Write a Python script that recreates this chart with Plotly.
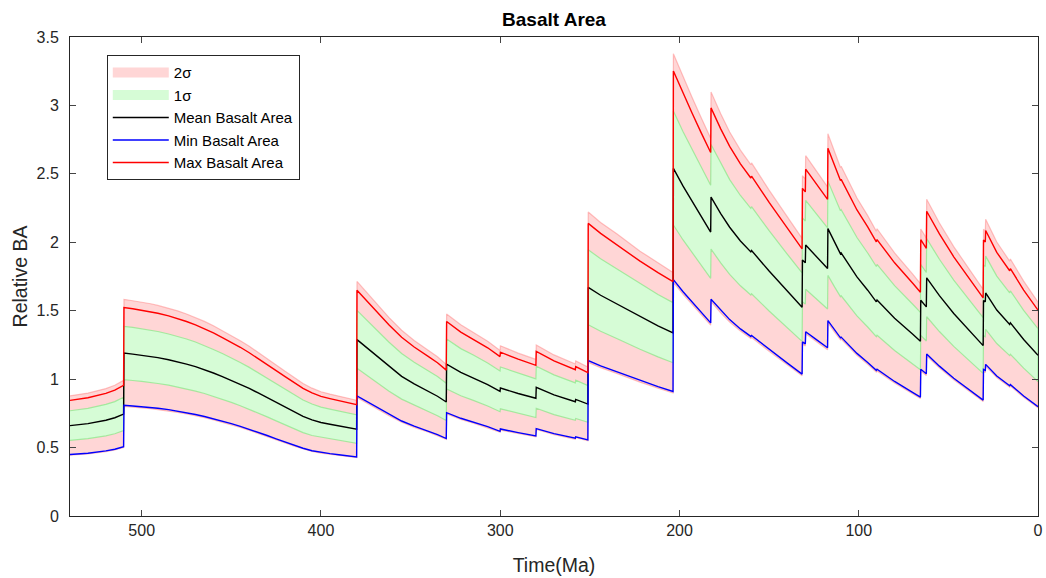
import plotly.graph_objects as go

# Time (Ma) sample points (pairs of close points mark the step jumps)
time_ma = [540, 530, 520, 515, 510.1,
           509.9, 505, 500, 495, 491, 485, 480, 475, 470, 465, 460, 455, 450, 445, 440, 435, 430, 425, 420,
           415, 410, 405, 400, 395, 390, 385, 380.1,
           379.9, 375, 370, 362, 355, 348, 340, 335, 330.1, 329.9, 322, 315, 307, 300.1, 299.9, 290, 280.1,
           279.9, 270, 258.1, 257.9, 251.1, 250.9, 244, 235, 222, 212, 203.6, 203.4, 198, 193, 188, 182.6,
           182.4, 177, 172, 166, 160.2, 159.8, 150, 140, 131.6, 131.4, 129.8, 129.6, 124, 117.4, 117.2, 113.5,
           110.2, 109.8, 101, 95, 90.2, 89.8, 80, 70, 65.6, 65.4, 62.3, 62.1, 55, 47, 40, 30.6, 30.4, 29.4,
           29.2, 23, 15.8, 15.4, 8, 0]

mean_ba = [0.660, 0.675, 0.700, 0.718, 0.745,
           1.190, 1.183, 1.175, 1.166, 1.157, 1.142, 1.127, 1.110, 1.091, 1.069, 1.045, 1.019, 0.992, 0.963,
           0.932, 0.899, 0.865, 0.830, 0.795, 0.760, 0.728, 0.702, 0.683, 0.670, 0.659, 0.647, 0.635,
           1.289, 1.235, 1.180, 1.090, 1.020, 0.965, 0.910, 0.875, 0.833,
           1.110, 1.050, 1.010, 0.960, 0.910, 0.935, 0.895, 0.860, 0.940, 0.885, 0.835, 0.852, 0.818, 1.670,
           1.613, 1.550, 1.455, 1.390, 1.338, 2.540, 2.410, 2.300, 2.190, 2.075, 2.330, 2.210, 2.110, 2.010,
           1.930, 1.940, 1.790, 1.645, 1.525, 1.870, 1.850, 1.980, 1.900, 1.808, 2.100, 2.000, 1.915, 1.922,
           1.747, 1.650, 1.565, 1.578, 1.445, 1.330, 1.277, 1.577, 1.528, 1.740, 1.610, 1.480, 1.380, 1.245,
           1.575, 1.565, 1.630, 1.505, 1.400, 1.412, 1.290, 1.175]

max_ba = [0.845, 0.864, 0.896, 0.919, 0.954,
          1.523, 1.514, 1.504, 1.492, 1.481, 1.462, 1.443, 1.421, 1.396, 1.368, 1.338, 1.304, 1.270, 1.233,
          1.193, 1.151, 1.107, 1.062, 1.018, 0.973, 0.932, 0.899, 0.874, 0.858, 0.844, 0.828, 0.813,
          1.650, 1.581, 1.510, 1.395, 1.306, 1.235, 1.165, 1.120, 1.066,
          1.421, 1.344, 1.293, 1.229, 1.165, 1.197, 1.146, 1.101, 1.203, 1.133, 1.069, 1.091, 1.047, 2.138,
          2.065, 1.984, 1.862, 1.779, 1.713, 3.251, 3.085, 2.944, 2.803, 2.656, 2.982, 2.829, 2.701, 2.573,
          2.470, 2.483, 2.291, 2.106, 1.952, 2.394, 2.368, 2.534, 2.432, 2.314, 2.688, 2.560, 2.451, 2.460,
          2.236, 2.112, 2.003, 2.020, 1.850, 1.702, 1.635, 2.019, 1.956, 2.227, 2.061, 1.894, 1.766, 1.594,
          2.016, 2.003, 2.086, 1.926, 1.792, 1.807, 1.651, 1.504]

min_ba = [0.449, 0.459, 0.476, 0.488, 0.507,
          0.809, 0.804, 0.799, 0.793, 0.787, 0.777, 0.766, 0.755, 0.742, 0.727, 0.711, 0.693, 0.675, 0.655,
          0.634, 0.611, 0.588, 0.564, 0.541, 0.517, 0.495, 0.477, 0.464, 0.456, 0.448, 0.440, 0.432,
          0.877, 0.840, 0.802, 0.741, 0.694, 0.656, 0.619, 0.595, 0.566,
          0.755, 0.714, 0.687, 0.653, 0.619, 0.636, 0.609, 0.585, 0.639, 0.602, 0.568, 0.579, 0.556, 1.136,
          1.097, 1.054, 0.989, 0.945, 0.910, 1.727, 1.639, 1.564, 1.489, 1.411, 1.584, 1.503, 1.435, 1.367,
          1.312, 1.319, 1.217, 1.119, 1.037, 1.272, 1.258, 1.346, 1.292, 1.229, 1.428, 1.360, 1.302, 1.307,
          1.188, 1.122, 1.064, 1.073, 0.983, 0.904, 0.868, 1.072, 1.039, 1.183, 1.095, 1.006, 0.938, 0.847,
          1.071, 1.064, 1.108, 1.023, 0.952, 0.960, 0.877, 0.799]

upper_1sigma = [0.769, 0.786, 0.816, 0.836, 0.868,
                1.386, 1.378, 1.369, 1.358, 1.348, 1.330, 1.313, 1.293, 1.271, 1.245, 1.217, 1.187, 1.156, 1.122,
                1.086, 1.047, 1.008, 0.967, 0.926, 0.885, 0.848, 0.818, 0.796, 0.781, 0.768, 0.754, 0.740,
                1.502, 1.439, 1.375, 1.270, 1.188, 1.124, 1.060, 1.019, 0.970,
                1.293, 1.223, 1.177, 1.118, 1.060, 1.089, 1.043, 1.002, 1.095, 1.031, 0.973, 0.993, 0.953, 1.946,
                1.879, 1.806, 1.695, 1.619, 1.559, 2.959, 2.808, 2.680, 2.551, 2.417, 2.714, 2.575, 2.458, 2.342,
                2.248, 2.260, 2.085, 1.916, 1.777, 2.179, 2.155, 2.307, 2.214, 2.106, 2.447, 2.330, 2.231, 2.239,
                2.035, 1.922, 1.823, 1.838, 1.683, 1.549, 1.488, 1.837, 1.780, 2.027, 1.876, 1.724, 1.608, 1.450,
                1.835, 1.823, 1.899, 1.753, 1.631, 1.645, 1.503, 1.369]

lower_1sigma = [0.552, 0.565, 0.586, 0.601, 0.624,
                0.996, 0.990, 0.983, 0.976, 0.968, 0.956, 0.943, 0.929, 0.913, 0.895, 0.875, 0.853, 0.830, 0.806,
                0.780, 0.752, 0.724, 0.695, 0.665, 0.636, 0.609, 0.588, 0.572, 0.561, 0.552, 0.542, 0.531,
                1.079, 1.034, 0.988, 0.912, 0.854, 0.808, 0.762, 0.732, 0.697,
                0.929, 0.879, 0.845, 0.804, 0.762, 0.783, 0.749, 0.720, 0.787, 0.741, 0.699, 0.713, 0.685, 1.398,
                1.350, 1.297, 1.218, 1.163, 1.120, 2.126, 2.017, 1.925, 1.833, 1.737, 1.950, 1.850, 1.766, 1.682,
                1.615, 1.624, 1.498, 1.377, 1.276, 1.565, 1.548, 1.657, 1.590, 1.513, 1.758, 1.674, 1.603, 1.609,
                1.462, 1.381, 1.310, 1.321, 1.209, 1.113, 1.069, 1.320, 1.279, 1.456, 1.348, 1.239, 1.155, 1.042,
                1.318, 1.310, 1.364, 1.260, 1.172, 1.182, 1.080, 0.983]

upper_2sigma = [0.878, 0.898, 0.931, 0.955, 0.991,
                1.583, 1.573, 1.563, 1.551, 1.539, 1.519, 1.499, 1.476, 1.451, 1.422, 1.390, 1.355, 1.319, 1.281,
                1.240, 1.196, 1.150, 1.104, 1.057, 1.011, 0.968, 0.934, 0.908, 0.891, 0.876, 0.861, 0.845,
                1.714, 1.643, 1.569, 1.450, 1.357, 1.283, 1.210, 1.164, 1.108,
                1.476, 1.397, 1.343, 1.277, 1.210, 1.244, 1.190, 1.144, 1.250, 1.177, 1.111, 1.133, 1.088, 2.221,
                2.145, 2.062, 1.935, 1.849, 1.780, 3.378, 3.205, 3.059, 2.913, 2.760, 3.099, 2.939, 2.806, 2.673,
                2.567, 2.580, 2.381, 2.188, 2.028, 2.487, 2.461, 2.633, 2.527, 2.405, 2.793, 2.660, 2.547, 2.556,
                2.324, 2.195, 2.081, 2.099, 1.922, 1.769, 1.698, 2.097, 2.032, 2.314, 2.141, 1.968, 1.835, 1.656,
                2.095, 2.081, 2.168, 2.002, 1.862, 1.878, 1.716, 1.563]

lower_2sigma = [0.444, 0.454, 0.470, 0.482, 0.501,
                0.800, 0.795, 0.790, 0.784, 0.778, 0.767, 0.757, 0.746, 0.733, 0.718, 0.702, 0.685, 0.667, 0.647,
                0.626, 0.604, 0.581, 0.558, 0.534, 0.511, 0.489, 0.472, 0.459, 0.450, 0.443, 0.435, 0.427,
                0.866, 0.830, 0.793, 0.732, 0.685, 0.648, 0.612, 0.588, 0.560,
                0.746, 0.706, 0.679, 0.645, 0.612, 0.628, 0.601, 0.578, 0.632, 0.595, 0.561, 0.573, 0.550, 1.122,
                1.084, 1.042, 0.978, 0.934, 0.899, 1.707, 1.620, 1.546, 1.472, 1.394, 1.566, 1.485, 1.418, 1.351,
                1.297, 1.304, 1.203, 1.105, 1.025, 1.257, 1.243, 1.331, 1.277, 1.215, 1.411, 1.344, 1.287, 1.292,
                1.174, 1.109, 1.052, 1.060, 0.971, 0.894, 0.858, 1.060, 1.027, 1.169, 1.082, 0.995, 0.927, 0.837,
                1.058, 1.052, 1.095, 1.011, 0.941, 0.949, 0.867, 0.790]

x_ticks = [0, 100, 200, 300, 400, 500]
y_ticks = [0, 0.5, 1, 1.5, 2, 2.5, 3, 3.5]

for _name, _s in [("mean", mean_ba), ("max", max_ba), ("min", min_ba), ("hi1", upper_1sigma),
                  ("lo1", lower_1sigma), ("hi2", upper_2sigma), ("lo2", lower_2sigma)]:
    assert len(_s) == len(time_ma), (_name, len(_s), len(time_ma))

FONT = "Liberation Sans, Arial, Helvetica, sans-serif"
AX = "#262626"
PINK = "#FFD6D6"
GREEN = "#D6FCD6"

fig = go.Figure()

# shaded bands (legend shown through wide-line legend entries below)
fig.add_trace(go.Scatter(
    x=time_ma + time_ma[::-1], y=upper_2sigma + lower_2sigma[::-1],
    fill="toself", fillcolor=PINK, mode="lines",
    line=dict(color="rgba(255,120,120,0.45)", width=1.2),
    name="2σ", legendgroup="2s", showlegend=False, hoverinfo="skip"))
fig.add_trace(go.Scatter(
    x=time_ma + time_ma[::-1], y=upper_1sigma + lower_1sigma[::-1],
    fill="toself", fillcolor=GREEN, mode="lines",
    line=dict(color="rgba(120,230,120,0.6)", width=1.2),
    name="1σ", legendgroup="1s", showlegend=False, hoverinfo="skip"))
# legend swatches for the bands
fig.add_trace(go.Scatter(x=[None], y=[None], mode="lines", line=dict(color=PINK, width=13),
                         name="2σ", legendgroup="2s"))
fig.add_trace(go.Scatter(x=[None], y=[None], mode="lines", line=dict(color=GREEN, width=13),
                         name="1σ", legendgroup="1s"))

fig.add_trace(go.Scatter(x=time_ma, y=mean_ba, mode="lines",
                         line=dict(color="#000000", width=1.4), name="Mean Basalt Area"))
fig.add_trace(go.Scatter(x=time_ma, y=min_ba, mode="lines",
                         line=dict(color="#0000FF", width=1.4), name="Min Basalt Area"))
fig.add_trace(go.Scatter(x=time_ma, y=max_ba, mode="lines",
                         line=dict(color="#FF0000", width=1.4), name="Max Basalt Area"))

fig.update_layout(
    width=1046, height=578,
    margin=dict(l=70, r=8, t=37, b=62),
    paper_bgcolor="white", plot_bgcolor="white",
    font=dict(family=FONT, color=AX, size=16),
    title=dict(text="<b>Basalt Area</b>", x=(70 + 1038) / 2 / 1046, xanchor="center",
               y=1 - 19 / 578, yanchor="middle", font=dict(size=19, color="#000000", family=FONT)),
    showlegend=True,
    legend=dict(x=0.038, y=0.962, xanchor="left", yanchor="top",
                bordercolor=AX, borderwidth=1, bgcolor="white",
                font=dict(size=15, color="#000000", family=FONT),
                itemwidth=56, tracegroupgap=0),
    xaxis=dict(range=[540, 0], tickvals=x_ticks, ticks="inside", ticklen=6,
               showline=True, linecolor=AX, linewidth=1, mirror="ticks", automargin=False,
               showgrid=False, zeroline=False, tickfont=dict(size=16, color=AX),
               title=dict(text="Time(Ma)", font=dict(size=19.5, color=AX), standoff=20)),
    yaxis=dict(range=[0, 3.5], tickvals=y_ticks, ticks="inside", ticklen=6,
               showline=True, linecolor=AX, linewidth=1, mirror="ticks", automargin=False,
               showgrid=False, zeroline=False, tickfont=dict(size=16, color=AX),
               ticklabelstandoff=7,
               title=dict(text="Relative BA", font=dict(size=19.5, color=AX), standoff=3)),
)

fig.write_html("out.html")
